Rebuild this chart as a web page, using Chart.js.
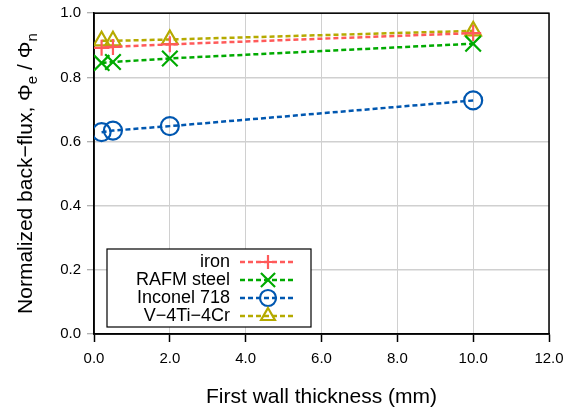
<!DOCTYPE html>
<html>
<head>
<meta charset="utf-8">
<script src="https://cdn.jsdelivr.net/npm/chart.js@4"></script>
<style>
  html, body { margin: 0; padding: 0; background: #fff; }
  #wrap { width: 566px; height: 412px; }
</style>
</head>
<body>
<div id="wrap"><canvas id="chart"></canvas></div>
<script>
const thickness = [0.2, 0.5, 2, 10];
const iron = [0.892, 0.895, 0.903, 0.938];
const rafm = [0.845, 0.848, 0.859, 0.905];
const inconel = [0.629, 0.634, 0.648, 0.728];
const vanadium = [0.914, 0.914, 0.918, 0.945];

const xTicks = [0, 2, 4, 6, 8, 10, 12];
const yTicks = [0, 0.2, 0.4, 0.6, 0.8, 1.0];

const FONT = '"Liberation Sans", Arial, Helvetica, sans-serif';

function series(label, values, color, style, radius) {
  return {
    label,
    data: thickness.map((x, i) => ({ x, y: values[i] })),
    borderColor: color,
    backgroundColor: 'rgba(0,0,0,0)',
    pointBorderColor: color,
    pointBackgroundColor: 'rgba(0,0,0,0)',
    pointStyle: style,
    pointRadius: radius,
    pointBorderWidth: 2.2,
    borderWidth: 2.5,
    borderDash: [5, 3],
    fill: false,
    tension: 0,
  };
}

const datasets = [
  series('iron', iron, '#ff5a5a', 'cross', 8),
  series('RAFM steel', rafm, '#00aa00', 'crossRot', 11),
  series('Inconel 718', inconel, '#0057b0', 'circle', 9),
  series('V\u22124Ti\u22124Cr', vanadium, '#b5aa00', 'triangle', 9),
];

// frame, axis titles and legend box drawn on top of the chart
const decor = {
  id: 'decor',
  beforeDatasetsDraw(chart) {
    const { ctx, chartArea: a } = chart;
    ctx.save();
    ctx.strokeStyle = '#000';
    ctx.lineWidth = 1.5;
    ctx.strokeRect(a.left, a.top, a.right - a.left, a.bottom - a.top);
    ctx.restore();
  },
  afterDraw(chart) {
    const { ctx, chartArea: a } = chart;
    ctx.save();
    ctx.fillStyle = '#000';

    // x title
    ctx.font = '21px ' + FONT;
    ctx.textAlign = 'center';
    ctx.textBaseline = 'alphabetic';
    ctx.fillText('First wall thickness (mm)', (a.left + a.right) / 2, 403);

    // y title with subscripts
    const parts = [
      ['Normalized back\u2212flux, \u03a6', false],
      ['e', true],
      [' / \u03a6', false],
      ['n', true],
    ];
    const big = '21px ' + FONT, small = '15px ' + FONT;
    let total = 0;
    parts.forEach(([t, sub]) => { ctx.font = sub ? small : big; total += ctx.measureText(t).width; });
    ctx.translate(32, (a.top + a.bottom) / 2);
    ctx.rotate(-Math.PI / 2);
    ctx.textAlign = 'left';
    let x = -total / 2;
    parts.forEach(([t, sub]) => {
      ctx.font = sub ? small : big;
      ctx.fillText(t, x, sub ? 5 : 0);
      x += ctx.measureText(t).width;
    });
    ctx.setTransform(1, 0, 0, 1, 0, 0);

    // legend
    const bx = 107, by = 249, bw = 204, bh = 78;
    ctx.fillStyle = '#fff';
    ctx.fillRect(bx, by, bw, bh);
    ctx.strokeStyle = '#000';
    ctx.lineWidth = 1.2;
    ctx.strokeRect(bx, by, bw, bh);
    ctx.font = '18px ' + FONT;
    ctx.textAlign = 'right';
    ctx.textBaseline = 'middle';
    chart.data.datasets.forEach((ds, i) => {
      const y = 262 + i * 18;
      ctx.fillStyle = '#000';
      ctx.fillText(ds.label, 230, y);
      ctx.strokeStyle = ds.borderColor;
      ctx.lineWidth = 2.5;
      ctx.setLineDash([5, 3]);
      ctx.beginPath();
      ctx.moveTo(240, y);
      ctx.lineTo(296, y);
      ctx.stroke();
      ctx.setLineDash([]);
      ctx.fillStyle = 'rgba(0,0,0,0)';
      ctx.lineWidth = 2.2;
      Chart.helpers.drawPoint(ctx, {
        pointStyle: ds.pointStyle,
        radius: ds.pointRadius - 1,
        borderWidth: 2.2,
      }, 268, y);
    });
    ctx.restore();
  }
};

new Chart(document.getElementById('chart'), {
  type: 'line',
  data: { datasets },
  options: {
    responsive: true,
    maintainAspectRatio: false,
    animation: false,
    layout: { padding: { left: 0, right: 17, top: 8, bottom: 0 } },
    plugins: { legend: { display: false }, tooltip: { enabled: false } },
    scales: {
      x: {
        type: 'linear',
        min: 0, max: 12,
        afterBuildTicks: s => { s.ticks = xTicks.map(v => ({ value: v })); },
        afterFit: s => { s.height = 78; s.paddingLeft = 0; s.paddingRight = 0; },
        ticks: {
          color: '#000',
          font: { family: FONT, size: 15 },
          padding: 8,
          callback: v => v.toFixed(1),
        },
        grid: { color: '#d0d0d0', lineWidth: 1, tickLength: 8, tickColor: '#000', tickWidth: 1.5 },
        border: { display: true, color: '#000', width: 1.5 },
      },
      y: {
        type: 'linear',
        min: 0, max: 1,
        afterBuildTicks: s => { s.ticks = yTicks.map(v => ({ value: v })); },
        afterFit: s => { s.width = 94; s.paddingTop = 0; s.paddingBottom = 0; },
        ticks: {
          color: '#000',
          font: { family: FONT, size: 15 },
          padding: 6,
          callback: v => v.toFixed(1),
        },
        grid: { color: '#d0d0d0', lineWidth: 1.5, tickLength: 7, tickColor: '#999', tickWidth: 1 },
        border: { display: true, color: '#000', width: 1.5 },
      },
    },
  },
  plugins: [decor],
});
</script>
</body>
</html>
